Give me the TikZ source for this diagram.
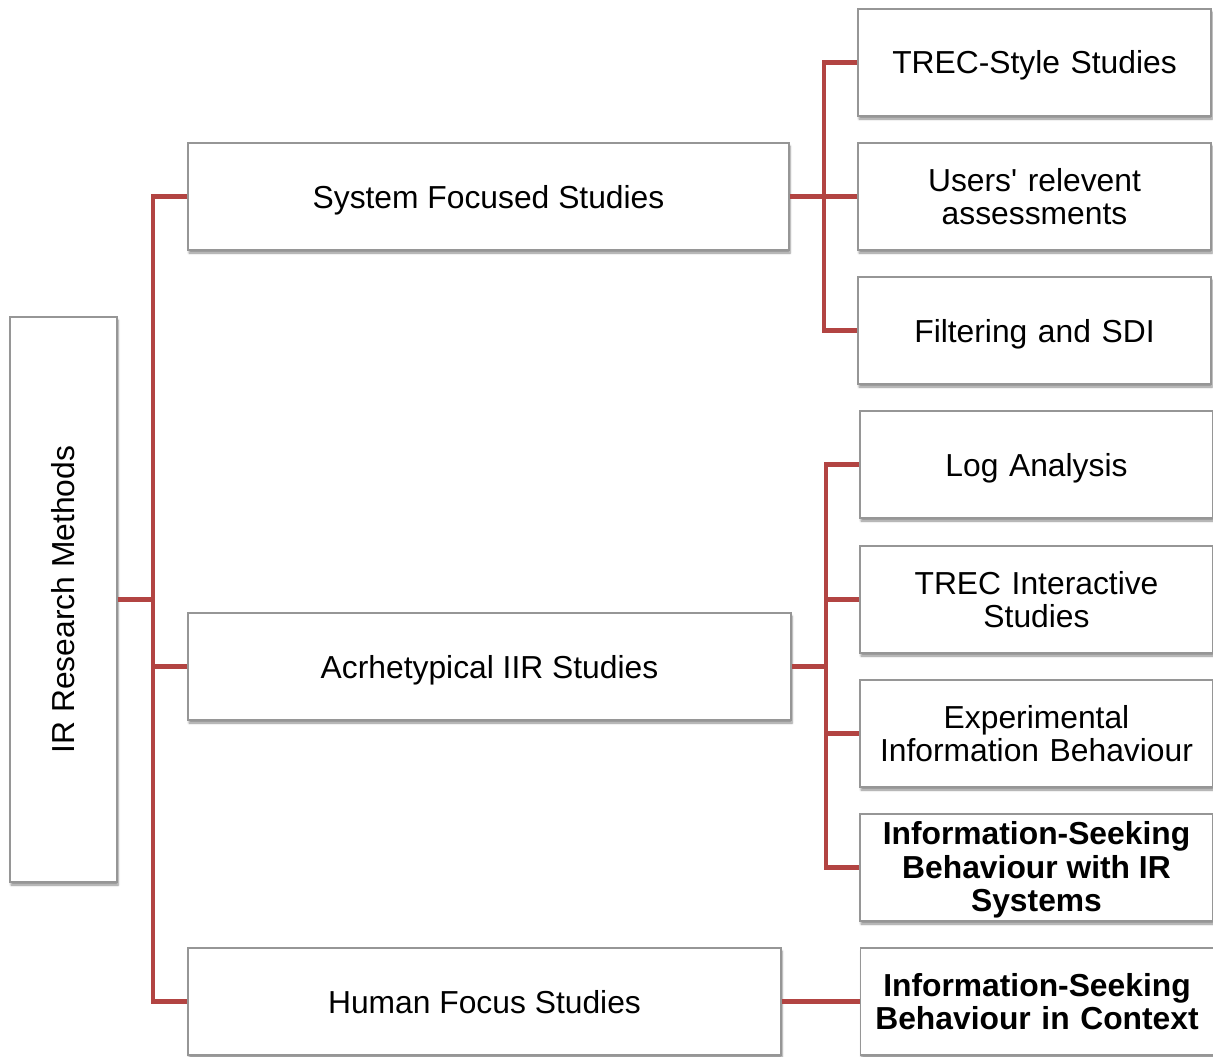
\documentclass[tikz,border=0pt]{standalone}
\usepackage{fontspec}
\setmainfont{Liberation Sans}[Ligatures=TeXOff]
\usetikzlibrary{shadows.blur}
\definecolor{linkred}{RGB}{178,68,66}
\definecolor{boxgray}{RGB}{150,150,150}
\begin{document}
\begin{tikzpicture}[x=1pt,y=-1pt,
  box/.style={draw=boxgray, line width=1.3pt, fill=white, inner sep=4pt,
    blur shadow={shadow xshift=1pt, shadow yshift=-3pt, shadow blur steps=6, shadow opacity=45},
    font=\fontsize{31.8}{33.5}\selectfont, align=center},
  oneline/.style={text height=23.5pt, text depth=0.5pt},
  topbox/.style={box, oneline, minimum width=601pt, minimum height=107pt},
  leafbox/.style={box, minimum width=353pt, minimum height=107pt, text width=345pt},
  boldtext/.style={font=\bfseries\fontsize{31.8}{33.5}\selectfont, align=center},
  link/.style={draw=linkred, line width=4.5pt, line join=miter, line cap=butt}]
\useasboundingbox (0,0) rectangle (1213,1057);

% root
\node[box, minimum width=107pt, minimum height=565pt] (root) at (63.5,599.5) {};
\node[rotate=90, font=\fontsize{31.8}{33.5}\selectfont] (roottxt) at (root.center) {IR Research Methods};

% first level
\node[topbox] (sys) at (488.5,196.5) {System Focused Studies};
\node[topbox, minimum width=603pt] (acr) at (489.5,666.5) {Acrhetypical IIR Studies};
\node[topbox, minimum width=593pt] (hum) at (484.5,1001.5) {Human Focus Studies};

% second level
\node[leafbox, oneline] (trec) at (1034.5,62.5) {TREC-Style Studies};
\node[leafbox] (users) at (1034.5,196.5) {Users' relevent\\assessments};
\node[leafbox, oneline] (filt) at (1034.5,330.5) {Filtering and SDI};
\node[leafbox, oneline] (log) at (1036.5,464.5) {Log Analysis};
\node[leafbox] (treci) at (1036.5,599.5) {TREC Interactive\\Studies};
\node[leafbox] (expi) at (1036.5,733.5) {Experimental\\Information Behaviour};
\node[leafbox] (isbir) at (1036.5,867.5) {};
\node[boldtext] (isbirtxt) at ([yshift=-2.5pt]isbir.center) {Information-Seeking\\Behaviour with IR\\Systems};
\node[leafbox, boldtext] (isbctx) at (1037,1001.5) {Information-Seeking\\Behaviour in Context};

% trunk from the root
\coordinate (t) at (153,599.5);
\draw[link] (root.east) -- (t);
\draw[link] (sys.west) -- (sys.west -| t) -- (hum.west -| t) -- (hum.west);
\draw[link] (acr.west) -- (acr.west -| t);

% system focused branch
\coordinate (b1) at (824,196.5);
\draw[link] (sys.east) -- (b1);
\draw[link] (trec.west) -- (trec.west -| b1) -- (filt.west -| b1) -- (filt.west);
\draw[link] (users.west) -- (users.west -| b1);

% archetypical branch
\coordinate (b2) at (826,666.5);
\draw[link] (acr.east) -- (b2);
\draw[link] (log.west) -- (log.west -| b2) -- (isbir.west -| b2) -- (isbir.west);
\draw[link] (treci.west) -- (treci.west -| b2);
\draw[link] (expi.west) -- (expi.west -| b2);

% human focus branch
\draw[link] (hum.east) -- (isbctx.west);
\end{tikzpicture}
\end{document}
